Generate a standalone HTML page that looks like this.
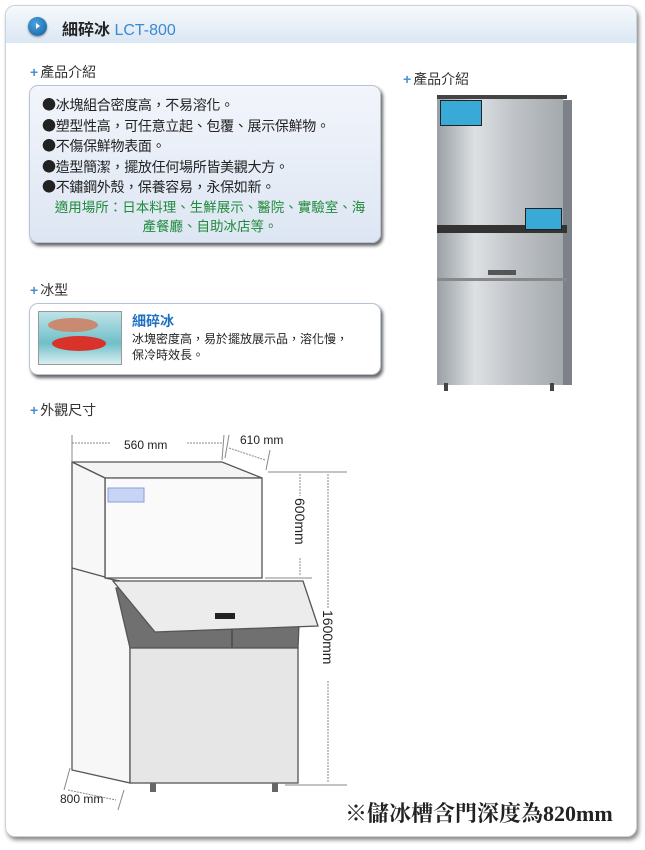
<!DOCTYPE html>
<html><head><meta charset="utf-8"><style>
body{margin:0;width:645px;height:850px;background:#fff;font-family:"Liberation Sans","Noto Sans CJK TC",sans-serif;position:relative;overflow:hidden}
.a{position:absolute}
.card{left:5px;top:5px;width:630px;height:830px;border:1px solid #c9d3dc;border-radius:10px;box-shadow:2px 3px 4px #888;background:#fff}
.hdr{left:6px;top:6px;width:630px;height:37px;border-radius:10px 10px 0 0;background:linear-gradient(#f6f9fc,#dbe7f3)}
.sec{font-size:14px;color:#333}
.sec b{color:#4a8fd0;font-weight:bold;margin-right:2px}
.box{background:linear-gradient(#f2f5fb,#dde6f3);border:1px solid #b8c4d4;border-radius:9px;box-shadow:2px 3px 3px #666}
.bl{font-family:"Noto Sans CJK TC",sans-serif}
</style></head><body>
<div class="a card"></div>
<div class="a hdr"></div>
<div class="a" style="left:28px;top:17px;width:19px;height:19px;border-radius:50%;background:radial-gradient(circle at 40% 35%,#4fa3e0,#0d5d9e);box-shadow:0 1px 2px #888"></div>
<div class="a" style="left:36px;top:23px;width:0;height:0;border-left:4px solid #fff;border-top:3.5px solid transparent;border-bottom:3.5px solid transparent"></div>
<div class="a" style="left:62px;top:16px;font-size:16px;color:#222;font-weight:bold">細碎冰 <span style="color:#3a8ad0;font-weight:normal">LCT-800</span></div>

<div class="a sec" style="left:30px;top:62px"><b>+</b>產品介紹</div>
<div class="a sec" style="left:403px;top:69px"><b>+</b>產品介紹</div>
<div class="a box" style="left:29px;top:85px;width:350px;height:156px"></div>
<div class="a" style="left:42px;top:95px;font-size:14px;line-height:20.5px;color:#222;letter-spacing:-0.3px"><span class="bl">●</span>冰塊組合密度高，不易溶化。<br><span class="bl">●</span>塑型性高，可任意立起、包覆、展示保鮮物。<br><span class="bl">●</span>不傷保鮮物表面。<br><span class="bl">●</span>造型簡潔，擺放任何場所皆美觀大方。<br><span class="bl">●</span>不鏽鋼外殼，保養容易，永保如新。</div>
<div class="a" style="left:40px;top:198px;width:340px;text-align:center;font-size:13.5px;line-height:19px;color:#1f8a3a">適用場所：日本料理、生鮮展示、醫院、實驗室、海<br>產餐廳、自助冰店等。</div>

<div class="a sec" style="left:30px;top:280px"><b>+</b>冰型</div>
<div class="a box" style="left:29px;top:303px;width:350px;height:70px;background:#fff"></div>
<div class="a" style="left:38px;top:311px;width:82px;height:52px;border:1px solid #999;background:linear-gradient(#bfe3e8,#6fbfc9 60%,#d9eef0)"></div>
<div class="a" style="left:48px;top:318px;width:50px;height:14px;border-radius:50%;background:#c88a70"></div>
<div class="a" style="left:52px;top:336px;width:54px;height:15px;border-radius:50%;background:#d8332a"></div>
<div class="a" style="left:132px;top:311px;font-size:14px;color:#1e6fc0;font-weight:bold">細碎冰</div>
<div class="a" style="left:132px;top:331px;font-size:12px;line-height:16px;color:#222">冰塊密度高，易於擺放展示品，溶化慢，<br>保冷時效長。</div>

<div class="a" style="left:437px;top:95px;width:126px;height:290px;background:linear-gradient(90deg,#9aa0a5,#dde0e3 30%,#c0c4c8 60%,#a4a9ad)"></div>
<div class="a" style="left:563px;top:100px;width:9px;height:285px;background:#7c8287"></div>
<div class="a" style="left:437px;top:95px;width:130px;height:4px;background:#444"></div>
<div class="a" style="left:440px;top:100px;width:40px;height:24px;background:#39a9d8;border:1px solid #222"></div>
<div class="a" style="left:437px;top:225px;width:130px;height:8px;background:#333"></div>
<div class="a" style="left:525px;top:208px;width:35px;height:20px;background:#39a9d8;border:1px solid #222"></div>
<div class="a" style="left:437px;top:278px;width:130px;height:3px;background:#888"></div>
<div class="a" style="left:488px;top:270px;width:28px;height:5px;background:#555"></div>
<div class="a" style="left:444px;top:383px;width:4px;height:8px;background:#444"></div>
<div class="a" style="left:550px;top:383px;width:4px;height:8px;background:#444"></div>

<div class="a sec" style="left:30px;top:400px"><b>+</b>外觀尺寸</div>

<svg class="a" style="left:0;top:0" width="645" height="850">
<g stroke="#555" stroke-width="1.3">
<polygon points="72,462 222,462 262,478 105,478" fill="#f4f4f4"/>
<polygon points="105,478 262,478 262,578 105,578" fill="#fafafa"/>
<polygon points="72,462 105,478 105,578 130,583 130,783 72,770" fill="#f7f7f7"/>
<line x1="72" y1="568" x2="105" y2="577"/>
<polygon points="116,588 300,600 298,648 130,648" fill="#707070"/>
<line x1="232" y1="628" x2="232" y2="648" stroke="#444"/>
<rect x="130" y="648" width="168" height="135" fill="#e6e6e6"/>
<polygon points="113,581 303,581 318,626 155,632" fill="#ececec"/>
</g>
<rect x="215" y="613" width="20" height="6" fill="#222"/>
<rect x="108" y="488" width="36" height="14" fill="#c8d4f3" stroke="#8aa0e0"/>
<rect x="150" y="783" width="6" height="9" fill="#666"/><rect x="272" y="783" width="6" height="9" fill="#666"/>
<g stroke="#888" stroke-width="1" fill="none">
<line x1="72" y1="443" x2="110" y2="443" stroke-dasharray="2,1"/><line x1="187" y1="443" x2="223" y2="443" stroke-dasharray="2,1"/>
<line x1="72" y1="435" x2="72" y2="462"/><line x1="224" y1="435" x2="222" y2="460"/><line x1="229" y1="435" x2="225" y2="458"/>
<line x1="229" y1="448" x2="265" y2="460" stroke-dasharray="2,1"/><line x1="270" y1="450" x2="266" y2="470"/>
<line x1="268" y1="472" x2="347" y2="472"/><line x1="265" y1="578" x2="312" y2="578"/>
<line x1="300" y1="474" x2="300" y2="576" stroke-dasharray="2,1"/>
<line x1="328" y1="474" x2="328" y2="783" stroke-dasharray="2,1"/>
<line x1="285" y1="785" x2="347" y2="785"/>
<line x1="70" y1="768" x2="64" y2="790"/><line x1="68" y1="790" x2="116" y2="800" stroke-dasharray="2,1"/><line x1="124" y1="790" x2="118" y2="810"/>
</g>
<g font-family="Liberation Sans,sans-serif" font-size="12" fill="#222">
<rect x="292" y="496" width="16" height="62" fill="#fff"/>
<rect x="320" y="608" width="16" height="72" fill="#fff"/>
<text x="124" y="449">560 mm</text><text x="240" y="444">610 mm</text><text x="60" y="803">800 mm</text>
<text x="295" y="498" transform="rotate(90 295 498)" font-size="14">600mm</text>
<text x="323" y="610" transform="rotate(90 323 610)" font-size="14">1600mm</text>
</g>
</svg>
<div class="a" style="left:345px;top:797px;font-family:'Liberation Serif','Noto Serif CJK SC',serif;font-size:22px;font-weight:bold;color:#222">※儲冰槽含門深度為820mm</div>
</body></html>
